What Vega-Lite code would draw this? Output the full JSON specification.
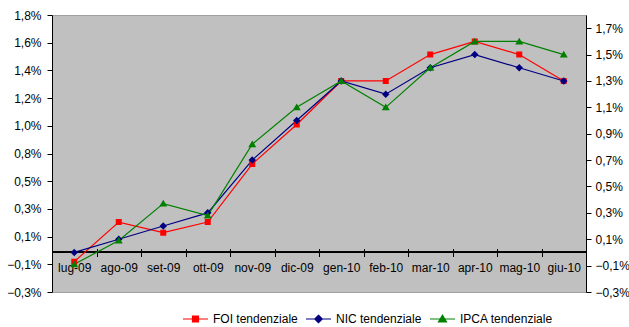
{
  "$schema": "https://vega.github.io/schema/vega-lite/v6.json",
  "width": 534,
  "height": 277,
  "autosize": {"type": "none"},
  "padding": {"left": 52, "top": 15, "right": 43, "bottom": 35},
  "background": "white",
  "config": {
    "view": {"fill": "#C0C0C0", "stroke": "#A0A0A0"},
    "font": "Liberation Sans",
    "axis": {"labelFont": "Liberation Sans", "labelFontSize": 12, "labelColor": "#000", "domainColor": "#000", "tickColor": "#000", "grid": false, "title": null, "labelOverlap": false},
    "legend": {"labelFont": "Liberation Sans", "labelFontSize": 12, "labelColor": "#000"}
  },
  "data": {"values": [
    {"mese": "lug-09", "serie": "FOI tendenziale", "v": -0.07},
    {"mese": "ago-09", "serie": "FOI tendenziale", "v": 0.23},
    {"mese": "set-09", "serie": "FOI tendenziale", "v": 0.15},
    {"mese": "ott-09", "serie": "FOI tendenziale", "v": 0.23},
    {"mese": "nov-09", "serie": "FOI tendenziale", "v": 0.67},
    {"mese": "dic-09", "serie": "FOI tendenziale", "v": 0.97},
    {"mese": "gen-10", "serie": "FOI tendenziale", "v": 1.30},
    {"mese": "feb-10", "serie": "FOI tendenziale", "v": 1.30},
    {"mese": "mar-10", "serie": "FOI tendenziale", "v": 1.50},
    {"mese": "apr-10", "serie": "FOI tendenziale", "v": 1.60},
    {"mese": "mag-10", "serie": "FOI tendenziale", "v": 1.50},
    {"mese": "giu-10", "serie": "FOI tendenziale", "v": 1.30},
    {"mese": "lug-09", "serie": "NIC tendenziale", "v": 0.0},
    {"mese": "ago-09", "serie": "NIC tendenziale", "v": 0.10},
    {"mese": "set-09", "serie": "NIC tendenziale", "v": 0.20},
    {"mese": "ott-09", "serie": "NIC tendenziale", "v": 0.30},
    {"mese": "nov-09", "serie": "NIC tendenziale", "v": 0.70},
    {"mese": "dic-09", "serie": "NIC tendenziale", "v": 1.00},
    {"mese": "gen-10", "serie": "NIC tendenziale", "v": 1.30},
    {"mese": "feb-10", "serie": "NIC tendenziale", "v": 1.20},
    {"mese": "mar-10", "serie": "NIC tendenziale", "v": 1.40},
    {"mese": "apr-10", "serie": "NIC tendenziale", "v": 1.50},
    {"mese": "mag-10", "serie": "NIC tendenziale", "v": 1.40},
    {"mese": "giu-10", "serie": "NIC tendenziale", "v": 1.30},
    {"mese": "lug-09", "serie": "IPCA tendenziale", "v": -0.09},
    {"mese": "ago-09", "serie": "IPCA tendenziale", "v": 0.09},
    {"mese": "set-09", "serie": "IPCA tendenziale", "v": 0.37},
    {"mese": "ott-09", "serie": "IPCA tendenziale", "v": 0.28},
    {"mese": "nov-09", "serie": "IPCA tendenziale", "v": 0.82},
    {"mese": "dic-09", "serie": "IPCA tendenziale", "v": 1.10},
    {"mese": "gen-10", "serie": "IPCA tendenziale", "v": 1.30},
    {"mese": "feb-10", "serie": "IPCA tendenziale", "v": 1.10},
    {"mese": "mar-10", "serie": "IPCA tendenziale", "v": 1.40},
    {"mese": "apr-10", "serie": "IPCA tendenziale", "v": 1.60},
    {"mese": "mag-10", "serie": "IPCA tendenziale", "v": 1.60},
    {"mese": "giu-10", "serie": "IPCA tendenziale", "v": 1.50}
  ]},
  "layer": [
    {
      "layer": [
        {
          "mark": {"type": "rule", "color": "#000", "strokeWidth": 1},
          "encoding": {"y": {"datum": 0, "type": "quantitative", "scale": {"domain": [-0.3, 1.8], "nice": false, "zero": false}}}
        },
        {
          "mark": {"type": "line", "strokeWidth": 1.2},
          "encoding": {
            "x": {"field": "mese", "type": "ordinal", "sort": null, "bandPosition": 0.5,
              "scale": {"type": "band", "paddingInner": 0, "paddingOuter": 0},
              "axis": {"orient": "bottom", "offset": -43.5, "domain": false, "tickSize": 8, "tickBand": "extent", "labelPadding": 6, "labelAngle": 0}},
            "y": {"field": "v", "type": "quantitative",
              "scale": {"domain": [-0.3, 1.8], "nice": false, "zero": false},
              "axis": {"orient": "left", "values": [-0.3, -0.09, 0.12, 0.33, 0.54, 0.75, 0.96, 1.17, 1.38, 1.59, 1.8], "tickCount": 30, "labelOverlap": false, "tickSize": 5, "labelPadding": 6, "labelExpr": "replace(format(datum.value, '.1f'), '.', ',') + '%'"}},
            "color": {"field": "serie", "type": "nominal", "sort": null,
              "scale": {"domain": ["FOI tendenziale", "NIC tendenziale", "IPCA tendenziale"], "range": ["#FF0000", "#000080", "#008000"]}}
          }
        },
        {
          "mark": {"type": "point", "filled": true, "opacity": 1, "size": 625, "strokeWidth": 0},
          "encoding": {
            "x": {"field": "mese", "type": "ordinal", "sort": null, "bandPosition": 0.5},
            "y": {"field": "v", "type": "quantitative"},
            "color": {"field": "serie", "type": "nominal", "sort": null,
              "legend": {"orient": "none", "legendX": 130, "legendY": 290.5, "direction": "horizontal", "gridAlign": "none", "title": null, "symbolSize": 625, "labelOffset": 4, "columnPadding": 5, "symbolStrokeWidth": 1.2,
                "encode": {"symbols": {"update": {"stroke": {"scale": "color", "field": "value"}, "strokeWidth": {"value": 1.2}}}}}},
            "shape": {"field": "serie", "type": "nominal", "sort": null,
              "scale": {"domain": ["FOI tendenziale", "NIC tendenziale", "IPCA tendenziale"],
                "range": ["M-1,0H1M-0.24,-0.24H0.24V0.24H-0.24Z", "M-1,0H1M0,-0.3L0.3,0L0,0.3L-0.3,0Z", "M-1,0H1M0,-0.3L0.32,0.24L-0.32,0.24Z"]}}
          }
        }
      ]
    },
    {
      "mark": {"type": "point", "opacity": 0},
      "encoding": {
        "x": {"field": "mese", "type": "ordinal", "sort": null},
        "y": {"field": "v", "type": "quantitative",
          "scale": {"domain": [-0.3, 1.8], "nice": false, "zero": false},
          "axis": {"orient": "right", "values": [-0.3, -0.1, 0.1, 0.3, 0.5, 0.7, 0.9, 1.1, 1.3, 1.5, 1.7], "tickCount": 30, "tickSize": 5, "labelPadding": 4, "labelExpr": "replace(format(datum.value, '.1f'), '.', ',') + '%'"}}
      }
    }
  ],
  "resolve": {"scale": {"y": "independent"}}
}
